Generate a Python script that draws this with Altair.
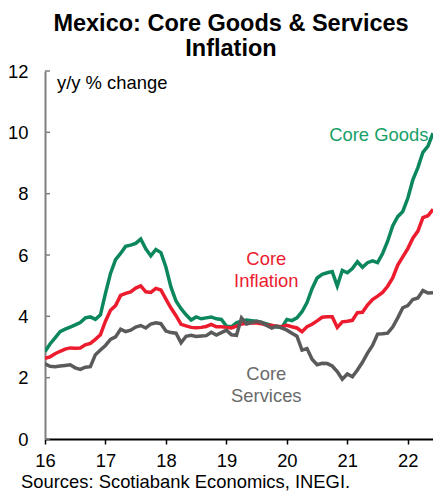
import altair as alt
import pandas as pd

# Monthly data Jan 2016 .. Jun 2022 (y/y % change)
core_goods = [
    2.85, 3.10, 3.30, 3.50, 3.58, 3.65, 3.72, 3.80, 3.95, 3.98, 3.90, 4.05,
    4.75, 5.40, 5.85, 6.05, 6.28, 6.32, 6.38, 6.52, 6.20, 5.97, 6.18, 6.08,
    5.60, 4.95, 4.50, 4.25, 4.05, 3.88, 3.98, 3.92, 3.95, 3.98, 3.92, 3.90,
    3.68, 3.66, 3.79, 3.85, 3.88, 3.86, 3.84, 3.80, 3.75, 3.70, 3.65, 3.64,
    3.90, 3.86, 3.95, 4.15, 4.45, 4.90, 5.25, 5.37, 5.42, 5.46, 4.99, 5.50,
    5.42, 5.56, 5.78, 5.60, 5.75, 5.81, 5.75, 6.05, 6.45, 6.95, 7.25, 7.42,
    7.85, 8.45, 8.85, 9.35, 9.55, 9.97,
]
core_inflation = [
    2.63, 2.68, 2.78, 2.86, 2.93, 2.97, 2.96, 2.97, 3.07, 3.12, 3.25, 3.40,
    3.84, 4.20, 4.35, 4.68, 4.75, 4.80, 4.92, 4.99, 4.80, 4.78, 4.91, 4.86,
    4.56, 4.27, 4.02, 3.74, 3.69, 3.64, 3.63, 3.64, 3.67, 3.74, 3.66, 3.66,
    3.64, 3.62, 3.68, 3.75, 3.77, 3.78, 3.78, 3.76, 3.72, 3.70, 3.68, 3.66,
    3.71, 3.66, 3.62, 3.50, 3.66, 3.74, 3.85, 3.97, 3.99, 3.99, 3.64, 3.82,
    3.84, 3.87, 4.12, 4.13, 4.37, 4.55, 4.66, 4.78, 4.98, 5.25, 5.67, 5.94,
    6.21, 6.55, 6.78, 7.22, 7.28, 7.49,
]
core_services = [
    2.45, 2.37, 2.36, 2.38, 2.40, 2.42, 2.32, 2.27, 2.34, 2.36, 2.75, 2.90,
    3.05, 3.25, 3.33, 3.58, 3.50, 3.55, 3.65, 3.70, 3.62, 3.75, 3.79, 3.76,
    3.52, 3.47, 3.45, 3.14, 3.35, 3.38, 3.34, 3.36, 3.37, 3.48, 3.39, 3.47,
    3.55, 3.40, 3.38, 3.95, 3.75, 3.80, 3.84, 3.80, 3.70, 3.62, 3.68, 3.62,
    3.55, 3.45, 3.35, 2.90, 2.95, 2.60, 2.42, 2.47, 2.46, 2.38, 2.20, 1.95,
    2.12, 2.03, 2.25, 2.50, 2.80, 3.05, 3.42, 3.43, 3.45, 3.65, 3.95, 4.28,
    4.35, 4.55, 4.60, 4.84, 4.76, 4.77,
]
series_names = ["Core Goods", "Core Inflation", "Core Services"]
series_colors = ["#0B875B", "#EC1B2D", "#5A5A5A"]
label_colors = ["#17A068", "#EC1B2D", "#6A6A6A"]

x_ticks = [16, 17, 18, 19, 20, 21, 22]
y_ticks = [0, 2, 4, 6, 8, 10, 12]

# series label annotations (year, value, text)
label_x = [21.52, 19.66, 19.66]
label_y = [9.72, 5.67, 1.92]
label_text = [["Core Goods"], ["Core", "Inflation"], ["Core", "Services"]]

source_text = "Sources: Scotiabank Economics, INEGI."
unit_text = "y/y % change"

rows = []
for name, vals in zip(series_names, [core_goods, core_inflation, core_services]):
    for i, v in enumerate(vals):
        rows.append({"t": 16 + i / 12, "v": v, "series": name})
df = pd.DataFrame(rows)

x_scale = alt.Scale(domain=[16, 16 + 77 / 12], nice=False, zero=False)
y_scale = alt.Scale(domain=[0, 12], nice=False)
color_scale = alt.Scale(domain=series_names, range=series_colors)

FS = 18.4

lines = alt.Chart(df).mark_line(strokeWidth=3.5, clip=True).encode(
    x=alt.X("t:Q", scale=x_scale, axis=alt.Axis(
        values=x_ticks, format="d", title=None, grid=False, labelFlush=False,
        labelFontSize=FS, labelFont="Liberation Sans", labelColor="#000000",
        domainColor="#000000", domainWidth=1.8, tickColor="#000000",
        tickSize=5, tickWidth=1.5, labelPadding=7)),
    y=alt.Y("v:Q", scale=y_scale, axis=alt.Axis(
        values=y_ticks, title=None, grid=False, tickSize=0,
        labelFontSize=FS, labelFont="Liberation Sans", labelColor="#000000",
        domainColor="#808080", domainWidth=2, labelPadding=17)),
    color=alt.Color("series:N", scale=color_scale, legend=None),
    order=alt.Order("t:Q"),
)

tick_df = pd.DataFrame({"y": y_ticks})
inner_ticks = alt.Chart(tick_df).mark_rule(color="#808080", strokeWidth=1.5).encode(
    y=alt.Y("y:Q", scale=y_scale),
    x=alt.value(0), x2=alt.value(5),
)

lab_df = pd.DataFrame({"x": label_x, "y": label_y, "text": label_text,
                       "series": series_names})
labels = alt.Chart(lab_df).mark_text(
    fontSize=FS, font="Liberation Sans", align="center", baseline="alphabetic",
    lineHeight=21.5,
).encode(
    x=alt.X("x:Q", scale=x_scale),
    y=alt.Y("y:Q", scale=y_scale),
    text="text",
    color=alt.Color("series:N", scale=alt.Scale(domain=series_names, range=label_colors), legend=None),
)

unit = alt.Chart(pd.DataFrame({"t": [unit_text]})).mark_text(
    fontSize=FS, font="Liberation Sans", align="left", baseline="alphabetic", color="#000000"
).encode(text="t:N", x=alt.value(12), y=alt.value(18))

source = alt.Chart(pd.DataFrame({"t": [source_text]})).mark_text(
    fontSize=FS, font="Liberation Sans", align="left", baseline="alphabetic", color="#000000"
).encode(text="t:N", x=alt.value(-24), y=alt.value(417))

chart = alt.layer(lines, inner_ticks, labels, unit, source).resolve_scale(
    color="independent"
).properties(
    width=388, height=368,
    title=alt.TitleParams(
        ["Mexico: Core Goods & Services", "Inflation"],
        fontSize=23.5, font="Liberation Sans", fontWeight="bold", color="#000000",
        anchor="middle", lineHeight=24.5, dx=-8, offset=2,
    ),
    autosize=alt.AutoSizeParams(type="none"),
    padding={"left": 37, "top": 63, "right": 0, "bottom": 53},
).configure_view(stroke=None)

chart.save("out.html", embed_options={"renderer": "svg", "actions": False})
